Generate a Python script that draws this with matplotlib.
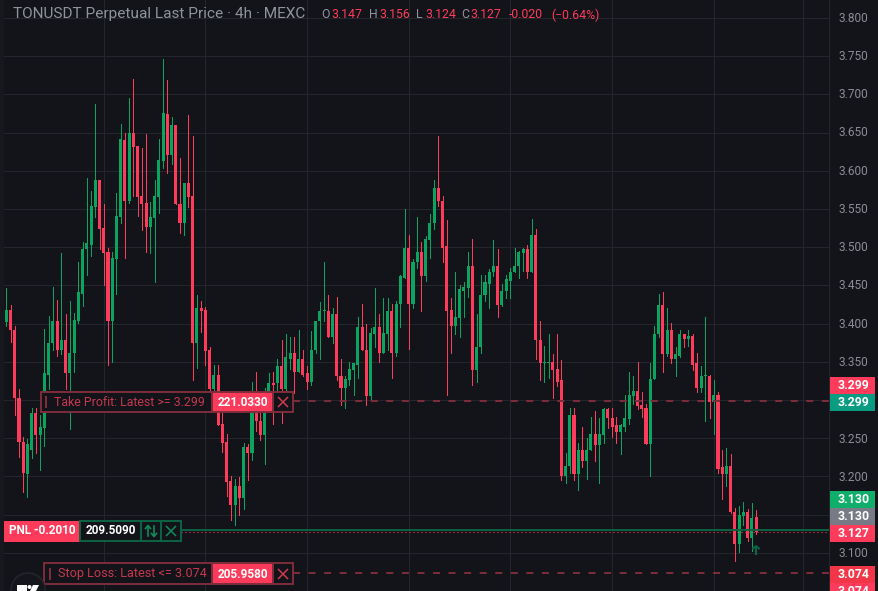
import matplotlib
matplotlib.use("Agg")
import matplotlib.pyplot as plt
from matplotlib.patches import Rectangle, Circle, Polygon

# ========================= Colours =========================#
BG = "#131419"
GRID = "#24262d"
GREEN = "#0ba360"
RED = "#fe3b5b"
DIM_RED = "#7f2c3c"
DIM_GREEN = "#0c6444"
AXIS_TEXT = "#8a8d94"

plt.rcParams["font.family"] = ["Roboto", "DejaVu Sans"]

# ========================= Candles =========================#
opens = [
    3.402, 3.418, 3.392, 3.303, 3.245, 3.203, 3.234, 3.283, 3.254, 3.263, 3.333, 3.374,
    3.404, 3.365, 3.379, 3.335, 3.361, 3.404, 3.439, 3.497, 3.503, 3.553, 3.588, 3.525,
    3.494, 3.403, 3.485, 3.540, 3.640, 3.561, 3.650, 3.633, 3.567, 3.558, 3.527, 3.538,
    3.566, 3.613, 3.674, 3.621, 3.660, 3.557, 3.531, 3.584, 3.567, 3.374, 3.420, 3.418,
    3.365, 3.314, 3.333, 3.268, 3.245, 3.194, 3.163, 3.187, 3.172, 3.239, 3.230, 3.307,
    3.273, 3.254, 3.290, 3.322, 3.322, 3.344, 3.314, 3.354, 3.362, 3.336, 3.353, 3.335,
    3.323, 3.365, 3.403, 3.416, 3.417, 3.383, 3.412, 3.332, 3.316, 3.326, 3.339, 3.346,
    3.396, 3.366, 3.305, 3.387, 3.396, 3.362, 3.387, 3.417, 3.361, 3.425, 3.460, 3.499,
    3.425, 3.480, 3.494, 3.462, 3.510, 3.531, 3.578, 3.561, 3.501, 3.418, 3.397, 3.407,
    3.443, 3.447, 3.476, 3.339, 3.369, 3.437, 3.452, 3.467, 3.475, 3.424, 3.442, 3.456,
    3.467, 3.475, 3.493, 3.497, 3.468, 3.516, 3.379, 3.348, 3.348, 3.350, 3.340, 3.326,
    3.201, 3.213, 3.281, 3.203, 3.234, 3.220, 3.234, 3.256, 3.241, 3.254, 3.288, 3.277,
    3.267, 3.258, 3.265, 3.275, 3.305, 3.312, 3.293, 3.289, 3.242, 3.327, 3.386, 3.424,
    3.360, 3.392, 3.354, 3.358, 3.386, 3.380, 3.384, 3.348, 3.316, 3.331, 3.332, 3.297,
    3.307, 3.212, 3.203, 3.213, 3.154, 3.111, 3.148, 3.154, 3.120, 3.147,
]
highs = [
    3.447, 3.424, 3.397, 3.314, 3.251, 3.249, 3.289, 3.290, 3.281, 3.393, 3.410, 3.448,
    3.431, 3.492, 3.413, 3.429, 3.414, 3.481, 3.507, 3.590, 3.574, 3.688, 3.588, 3.557,
    3.499, 3.494, 3.571, 3.661, 3.650, 3.695, 3.720, 3.633, 3.630, 3.648, 3.559, 3.588,
    3.641, 3.746, 3.719, 3.671, 3.660, 3.617, 3.584, 3.673, 3.646, 3.438, 3.430, 3.422,
    3.370, 3.346, 3.346, 3.283, 3.256, 3.200, 3.196, 3.199, 3.244, 3.243, 3.323, 3.336,
    3.283, 3.316, 3.335, 3.336, 3.353, 3.379, 3.386, 3.383, 3.382, 3.392, 3.366, 3.344,
    3.390, 3.404, 3.428, 3.481, 3.438, 3.421, 3.435, 3.353, 3.332, 3.350, 3.349, 3.409,
    3.426, 3.399, 3.394, 3.447, 3.412, 3.434, 3.433, 3.426, 3.430, 3.463, 3.550, 3.516,
    3.484, 3.539, 3.507, 3.514, 3.543, 3.588, 3.646, 3.567, 3.535, 3.434, 3.467, 3.450,
    3.455, 3.494, 3.511, 3.412, 3.463, 3.464, 3.471, 3.510, 3.498, 3.452, 3.463, 3.473,
    3.499, 3.495, 3.499, 3.503, 3.537, 3.524, 3.403, 3.371, 3.387, 3.360, 3.387, 3.352,
    3.231, 3.289, 3.289, 3.244, 3.265, 3.250, 3.278, 3.285, 3.277, 3.290, 3.289, 3.290,
    3.278, 3.268, 3.306, 3.336, 3.331, 3.350, 3.310, 3.295, 3.349, 3.397, 3.439, 3.441,
    3.421, 3.401, 3.370, 3.392, 3.387, 3.391, 3.387, 3.361, 3.345, 3.409, 3.333, 3.326,
    3.311, 3.235, 3.237, 3.229, 3.158, 3.161, 3.167, 3.157, 3.165, 3.156,
]
lows = [
    3.397, 3.376, 3.281, 3.225, 3.180, 3.173, 3.224, 3.230, 3.208, 3.240, 3.315, 3.365,
    3.357, 3.360, 3.314, 3.262, 3.336, 3.401, 3.423, 3.463, 3.489, 3.540, 3.498, 3.450,
    3.346, 3.350, 3.439, 3.531, 3.486, 3.558, 3.567, 3.541, 3.522, 3.494, 3.492, 3.454,
    3.545, 3.604, 3.597, 3.609, 3.556, 3.518, 3.516, 3.552, 3.326, 3.342, 3.389, 3.346,
    3.300, 3.309, 3.267, 3.232, 3.174, 3.143, 3.136, 3.150, 3.157, 3.195, 3.221, 3.259,
    3.248, 3.216, 3.285, 3.268, 3.300, 3.270, 3.310, 3.341, 3.309, 3.336, 3.332, 3.314,
    3.319, 3.362, 3.354, 3.403, 3.383, 3.375, 3.326, 3.293, 3.289, 3.320, 3.306, 3.329,
    3.365, 3.293, 3.299, 3.370, 3.350, 3.362, 3.365, 3.329, 3.358, 3.396, 3.460, 3.367,
    3.421, 3.473, 3.417, 3.456, 3.486, 3.524, 3.554, 3.481, 3.306, 3.362, 3.386, 3.383,
    3.409, 3.435, 3.320, 3.323, 3.362, 3.429, 3.421, 3.462, 3.408, 3.423, 3.434, 3.434,
    3.467, 3.459, 3.469, 3.460, 3.467, 3.353, 3.326, 3.323, 3.329, 3.303, 3.318, 3.195,
    3.191, 3.204, 3.195, 3.182, 3.212, 3.196, 3.234, 3.220, 3.191, 3.244, 3.263, 3.251,
    3.244, 3.229, 3.259, 3.268, 3.295, 3.288, 3.278, 3.242, 3.200, 3.327, 3.383, 3.336,
    3.358, 3.349, 3.332, 3.356, 3.369, 3.371, 3.339, 3.310, 3.310, 3.273, 3.276, 3.256,
    3.204, 3.171, 3.187, 3.152, 3.089, 3.101, 3.137, 3.115, 3.102, 3.124,
]
closes = [
    3.418, 3.391, 3.302, 3.245, 3.204, 3.243, 3.283, 3.254, 3.264, 3.335, 3.375, 3.404,
    3.365, 3.379, 3.335, 3.362, 3.405, 3.441, 3.498, 3.505, 3.554, 3.588, 3.524, 3.493,
    3.403, 3.486, 3.541, 3.641, 3.561, 3.650, 3.631, 3.566, 3.557, 3.527, 3.540, 3.567,
    3.614, 3.675, 3.621, 3.660, 3.556, 3.531, 3.584, 3.566, 3.374, 3.420, 3.417, 3.364,
    3.314, 3.333, 3.267, 3.244, 3.193, 3.163, 3.187, 3.172, 3.239, 3.230, 3.309, 3.272,
    3.254, 3.283, 3.322, 3.320, 3.344, 3.314, 3.356, 3.362, 3.336, 3.353, 3.333, 3.323,
    3.366, 3.404, 3.417, 3.417, 3.383, 3.412, 3.331, 3.316, 3.327, 3.340, 3.348, 3.396,
    3.365, 3.305, 3.388, 3.396, 3.362, 3.388, 3.417, 3.361, 3.426, 3.462, 3.499, 3.425,
    3.481, 3.494, 3.462, 3.511, 3.532, 3.578, 3.560, 3.499, 3.417, 3.397, 3.408, 3.445,
    3.448, 3.476, 3.339, 3.370, 3.438, 3.454, 3.468, 3.475, 3.424, 3.443, 3.458, 3.468,
    3.476, 3.494, 3.497, 3.468, 3.516, 3.378, 3.348, 3.349, 3.350, 3.339, 3.324, 3.201,
    3.214, 3.281, 3.203, 3.234, 3.220, 3.235, 3.256, 3.241, 3.255, 3.288, 3.276, 3.265,
    3.258, 3.267, 3.276, 3.306, 3.312, 3.292, 3.288, 3.242, 3.328, 3.387, 3.424, 3.360,
    3.392, 3.354, 3.360, 3.386, 3.380, 3.384, 3.346, 3.316, 3.332, 3.331, 3.297, 3.307,
    3.210, 3.203, 3.213, 3.153, 3.111, 3.149, 3.154, 3.120, 3.146, 3.127,
]

# ========================= Axis labels =========================#
price_ticks = [3.80, 3.75, 3.70, 3.65, 3.60, 3.55, 3.50, 3.45, 3.40, 3.35, 3.30, 3.25, 3.20, 3.15, 3.10, 3.05]
tick_labels = ["3.800", "3.750", "3.700", "3.650", "3.600", "3.550", "3.500", "3.450", "3.400", "3.350",
               "", "3.250", "3.200", "", "3.100", ""]
time_grid = [23, 47, 71, 95, 119, 143, 167, 188]

take_profit = 3.299
stop_loss = 3.074
entry_price = 3.130
last_price = 3.127

# ========================= Main pane =========================#
W, H = 879, 591
PANE = 829
fig = plt.figure(figsize=(W / 100, H / 100), dpi=100, facecolor=BG)
ax = fig.add_axes([0, 0, PANE / W, 1], facecolor=BG)
ax.set_ylim(3.051, 3.8235)
ax.set_xlim(-1.49, 194.2)
ax.set_yticks(price_ticks)
ax.set_yticklabels([])
ax.set_xticks(time_grid)
ax.set_xticklabels([])
ax.tick_params(length=0)
ax.grid(True, color=GRID, lw=0.72)
ax.set_axisbelow(True)
for s in ax.spines.values():
    s.set_visible(False)

for i in range(len(opens)):
    c = GREEN if closes[i] >= opens[i] else RED
    ax.vlines(i, lows[i], highs[i], color=c, lw=0.72, zorder=2, antialiased=False)
    top = max(opens[i], closes[i])
    bot = min(opens[i], closes[i])
    ax.bar(i, max(top - bot, 0.002), bottom=bot, width=0.72, color=c, lw=0, zorder=3, antialiased=False)

# price lines start where their order box ends
ax.axhline(take_profit, xmin=293 / PANE, color=DIM_RED, lw=1.4, dashes=(3.6, 4.4), zorder=4)
ax.axhline(stop_loss, xmin=293 / PANE, color=DIM_RED, lw=1.4, dashes=(3.6, 4.4), zorder=4)
ax.axhline(entry_price, xmin=181 / PANE, color=DIM_GREEN, lw=1.4, zorder=4)
ax.axhline(last_price, xmin=181 / PANE, color=RED, lw=0.8, ls=(0, (1, 2.6)), zorder=4)

# ========================= UI overlay, in screen pixels =========================#
ui = fig.add_axes([0, 0, 1, 1])
ui.set_xlim(0, W)
ui.set_ylim(H, 0)
ui.axis("off")


def box(x0, y0, x1, y1, fill, edge=None, lw=1.4):
    ui.add_patch(Rectangle((x0, y0), x1 - x0, y1 - y0, facecolor=fill,
                           edgecolor=edge if edge else fill, lw=lw if edge else 0))


def label(x, y, s, color, size=8.6, ha="left", weight="normal"):
    ui.text(x, y, s, color=color, fontsize=size, ha=ha, va="center", fontweight=weight)


def cross(cx, cy, color):
    ui.plot([cx - 4.5, cx + 4.5], [cy - 4.5, cy + 4.5], color=color, lw=1.1)
    ui.plot([cx - 4.5, cx + 4.5], [cy + 4.5, cy - 4.5], color=color, lw=1.1)


# left strip
box(0, 0, 4, H, "#17181d")

# price axis
box(PANE, 0, W, H, BG)
ui.plot([PANE, PANE], [0, H], color=GRID, lw=0.72)
y_of = lambda p: 18 + (3.8 - p) * 765.5
for p, s in zip(price_ticks, tick_labels):
    if s:
        label(853.5, y_of(p), s, AXIS_TEXT, ha="center")

tags = [
    (377, 394, "#fe3b5b", "3.299"),
    (394, 411, "#0a9c82", "3.299"),
    (491, 508, "#0fae6b", "3.130"),
    (508, 525, "#787b86", "3.130"),
    (525, 542, "#fe3b5b", "3.127"),
    (566, 583, "#f23648", "3.074"),
    (583, 600, "#fe3b5b", "3.074"),
]
for y0, y1, col, s in tags:
    box(PANE, y0, 875, y1, col)
    label(853.5, (y0 + y1) / 2, s, "white", size=8.8, ha="center", weight="bold")

# take profit order line
box(41, 392, 212, 412, BG, DIM_RED)
box(45.5, 396, 47, 408, DIM_RED)
label(54, 402, "Take Profit: Latest >= 3.299", "#c5384f", size=8.9)
box(212, 392, 273, 412, RED, DIM_RED)
label(243, 402, "221.0330", "white", size=8.5, ha="center", weight="bold")
box(273, 392, 293, 412, BG, DIM_RED)
cross(283, 402, "#d0384f")

# stop loss order line
box(44, 563, 212, 584, BG, DIM_RED)
box(49.5, 568, 51, 580, DIM_RED)
label(58, 574, "Stop Loss: Latest <= 3.074", "#c5384f", size=9.05)
box(212, 563, 273, 584, RED, DIM_RED)
label(243, 574, "205.9580", "white", size=8.5, ha="center", weight="bold")
box(273, 563, 293, 584, BG, DIM_RED)
cross(283, 574, "#d0384f")

# position line
box(4, 520.5, 80, 541.5, RED)
label(9, 531, "PNL -0.2010", "white", size=8.5, weight="bold")
box(80, 521, 141, 541, BG, DIM_GREEN)
label(111, 531, "209.5090", "white", size=8.5, ha="center", weight="bold")
box(141, 521, 161, 541, BG, DIM_GREEN)
ui.plot([148, 148], [526, 536], color="#0f8a5a", lw=1.2)
ui.plot([145.5, 148, 150.5], [528.5, 525.5, 528.5], color="#0f8a5a", lw=1.2)
ui.plot([154, 154], [526, 536], color="#0f8a5a", lw=1.2)
ui.plot([151.5, 154, 156.5], [533.5, 536.5, 533.5], color="#0f8a5a", lw=1.2)
box(161, 521, 181, 541, BG, DIM_GREEN)
cross(171, 531, "#0f8a5a")

# small arrow under the last candle
ui.plot([756, 756], [547, 554], color=DIM_GREEN, lw=1.6)
ui.plot([753, 756, 759], [548.5, 546, 548.5], color=DIM_GREEN, lw=1.4)

# logo
ui.add_patch(Circle((28, 590), 17, facecolor="#14161b", edgecolor="#22252e", lw=1.2))
ui.add_patch(Polygon([(17, 585), (27, 585), (27, 591), (17, 591)], facecolor="white", lw=0))
ui.add_patch(Circle((29.5, 587), 2, facecolor="white", lw=0))
ui.add_patch(Polygon([(33, 585), (39, 585), (36, 591), (30, 591)], facecolor="white", lw=0))

# header
label(13, 14, "TONUSDT Perpetual Last Price · 4h · MEXC", "#8f939b", size=11.1)
for x, s, col in [
    (321, "O", "#8f939b"), (331, "3.147", RED), (369, "H", "#8f939b"), (379, "3.156", RED),
    (416, "L", "#8f939b"), (425, "3.124", RED), (461, "C", "#8f939b"), (470, "3.127", RED),
    (509, "-0.020", RED), (551, "(−0.64%)", RED),
]:
    label(x, 15, s, col, size=8.8)

fig.savefig("out.png", dpi=100, facecolor=BG)
